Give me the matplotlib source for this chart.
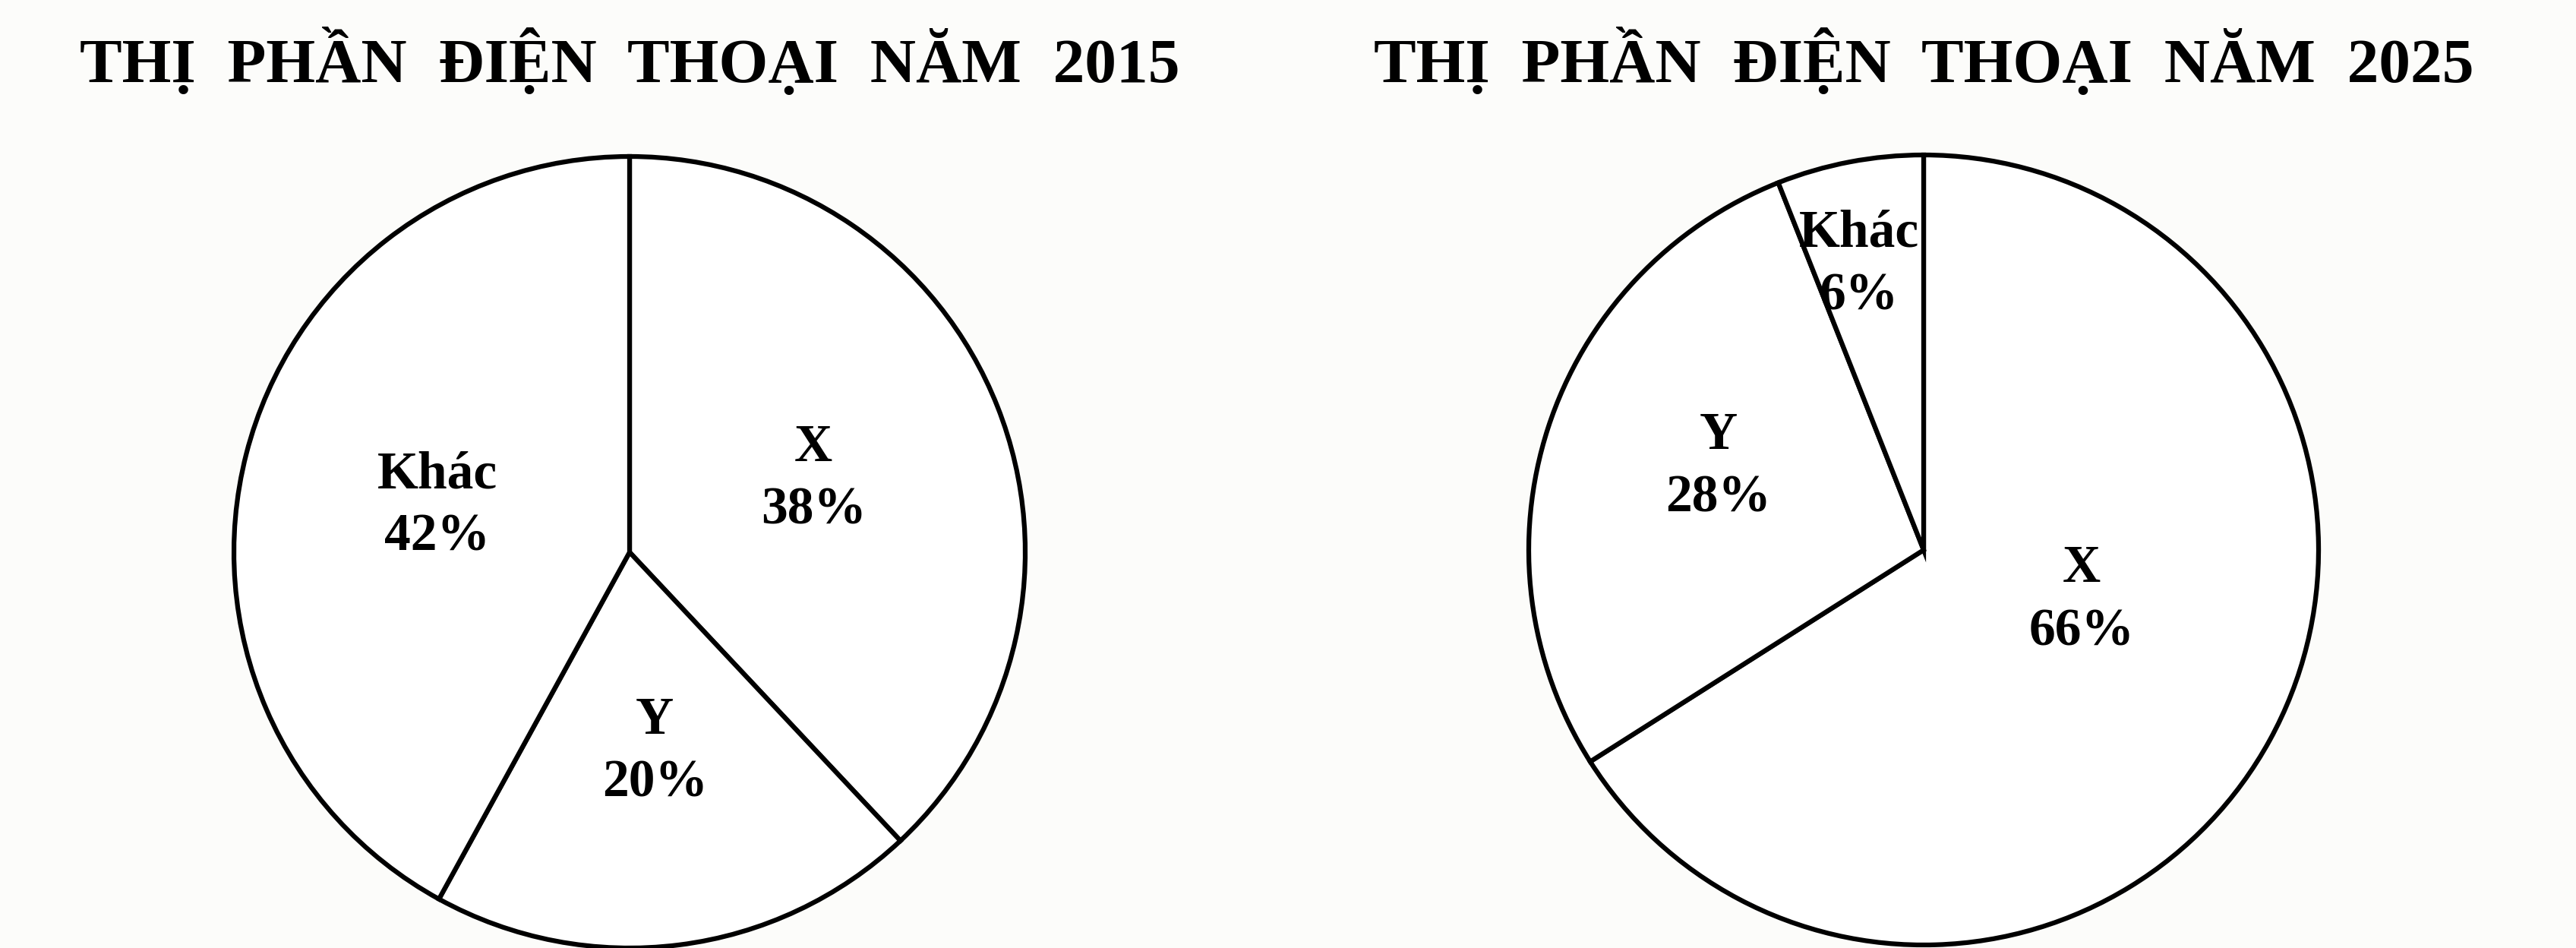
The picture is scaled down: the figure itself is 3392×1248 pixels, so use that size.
import matplotlib.pyplot as plt
import numpy as np

plt.rcParams['font.family'] = ['Liberation Serif', 'DejaVu Serif']

# dữ liệu
nhan = ['X', 'Y', 'Khác']
thi_phan_2015 = [38, 20, 42]
thi_phan_2025 = [66, 28, 6]
tieu_de = ['THỊ  PHẦN  ĐIỆN  THOẠI  NĂM  2015', 'THỊ  PHẦN  ĐIỆN  THOẠI  NĂM  2025']

W, H = 3392, 1248
fig = plt.figure(figsize=(W / 100, H / 100), dpi=100)
fig.patch.set_facecolor('#fcfcfa')
ax = fig.add_axes([0, 0, 1, 1])

# vị trí tâm (pixel), bán kính, khoảng cách nhãn
tam = [(829, H - 727), (2533, H - 724)]
ban_kinh = [521, 520]
vi_tri_nhan = [
    [(0.50, 0), (0.51, 0), (0.50, 1)],
    [(0.42, 11), (0.56, -4), (0.74, 2)],
]

for k, gia_tri in enumerate([thi_phan_2015, thi_phan_2025]):
    wedges, texts = ax.pie(
        gia_tri, labels=None, startangle=90, counterclock=False,
        center=tam[k], radius=ban_kinh[k],
        wedgeprops=dict(facecolor='white', edgecolor='black', linewidth=4.5),
    )
    for i, w in enumerate(wedges):
        goc = np.deg2rad((w.theta1 + w.theta2) / 2 + vi_tri_nhan[k][i][1])
        r = vi_tri_nhan[k][i][0] * ban_kinh[k]
        ax.text(tam[k][0] + r * np.cos(goc), tam[k][1] + r * np.sin(goc),
                f'{nhan[i]}\n{gia_tri[i]}%', ha='center', va='center',
                fontsize=50, fontweight='bold', linespacing=1.38)
    ax.text(tam[k][0], H - 108, tieu_de[k], ha='center', va='baseline',
            fontsize=60, fontweight='bold')

ax.set_xlim(0, W)
ax.set_ylim(0, H)
ax.set_aspect('equal')
ax.axis('off')

plt.savefig('out.png', dpi=100, facecolor=fig.get_facecolor())
